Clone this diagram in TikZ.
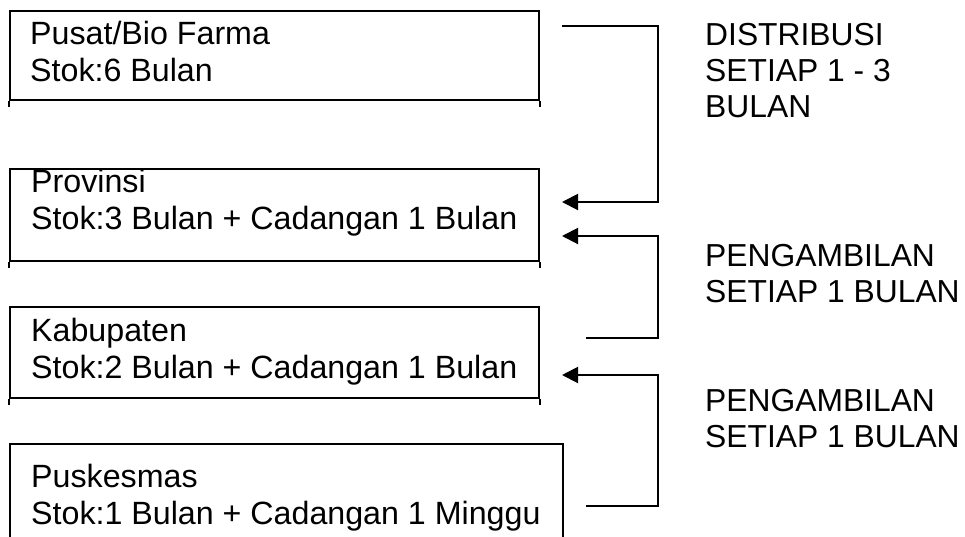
\documentclass[tikz,border=0pt]{standalone}
\usepackage{fontspec}
\setmainfont{Liberation Sans}
\usetikzlibrary{arrows.meta}
\tikzset{
	stokbox/.style={rectangle, draw, line width=2pt, anchor=north west, inner sep=0pt},
	stoktext/.style={anchor=north west, inner sep=0pt, align=left,
		font=\fontsize{32.2}{37}\selectfont},
	sidetext/.style={stoktext, font=\fontsize{31.8}{36}\selectfont},
	flow/.style={line width=2pt, -{Triangle[length=16pt, width=16pt]}},
	legs/.style={line width=2pt},
}

\begin{document}
\begin{tikzpicture}[x=1pt, y=-1pt]
\useasboundingbox (0,0) rectangle (965,536);

% levels
\node[stokbox, minimum width=529pt, minimum height=89pt] (pusat) at (9,10) {};
\node[stokbox, minimum width=529pt, minimum height=92pt] (provinsi) at (9,168) {};
\node[stokbox, minimum width=529pt, minimum height=91pt] (kabupaten) at (9,306) {};
\node[stokbox, minimum width=553pt, minimum height=110pt] (puskesmas) at (9,443) {};

\foreach \b in {pusat, provinsi, kabupaten} {
	\draw[legs] (\b.south west) -- ++(0,6);
	\draw[legs] (\b.south east) -- ++(0,6);
}

\node[stoktext] (pusat text) at (30,21) {Pusat/Bio Farma\\Stok:6 Bulan};
\node[stoktext] (provinsi text) at (31,169) {Provinsi\\Stok:3 Bulan + Cadangan 1 Bulan};
\node[stoktext] (kabupaten text) at (31,318) {Kabupaten\\Stok:2 Bulan + Cadangan 1 Bulan};
\node[stoktext] (puskesmas text) at (31,464) {Puskesmas\\Stok:1 Bulan + Cadangan 1 Minggu};

% flows
\coordinate (rail) at (658,0);
\coordinate (dist from) at (562,26);
\coordinate (dist to) at (562,202);
\coordinate (amb1 from) at (586,338);
\coordinate (amb1 to) at (562,236);
\coordinate (amb2 from) at (586,506);
\coordinate (amb2 to) at (562,375);

\draw[flow] (dist from) -| (rail |- dist to) -- (dist to);
\draw[flow] (amb1 from) -| (rail |- amb1 to) -- (amb1 to);
\draw[flow] (amb2 from) -| (rail |- amb2 to) -- (amb2 to);

\node[sidetext] (dist label) at (705,23) {DISTRIBUSI\\SETIAP 1 - 3\\BULAN};
\node[sidetext] (amb1 label) at (705,244) {PENGAMBILAN\\SETIAP 1 BULAN};
\node[sidetext] (amb2 label) at (705,389) {PENGAMBILAN\\SETIAP 1 BULAN};

\end{tikzpicture}
\end{document}
